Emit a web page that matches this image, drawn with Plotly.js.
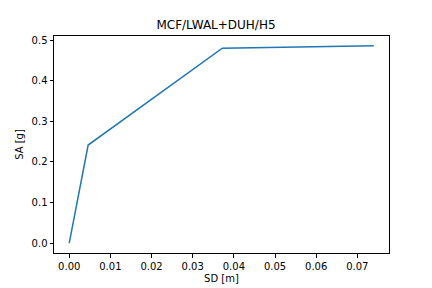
<!DOCTYPE html>
<html><head><meta charset="utf-8">
<script src="https://cdn.plot.ly/plotly-3.0.1.min.js"></script>
<style>html,body{margin:0;padding:0;background:#fff}#plot{width:432px;height:288px}</style>
</head><body><div id="plot"></div>
<script>
const sd = [0.0, 0.0046, 0.0372, 0.0740];
const sa = [0.0, 0.2417, 0.4804, 0.4860];
const xTicks = [0, 0.01, 0.02, 0.03, 0.04, 0.05, 0.06, 0.07];
const xTickText = ["0.00","0.01","0.02","0.03","0.04","0.05","0.06","0.07"];
const yTicks = [0, 0.1, 0.2, 0.3, 0.4, 0.5];
const yTickText = ["0.0","0.1","0.2","0.3","0.4","0.5"];

const xmax = Math.max(...sd), ymax = Math.max(...sa);
const font = {family: "DejaVu Sans, sans-serif", size: 10, color: "#000"};
const axisCommon = {
  showgrid: false, zeroline: false, showline: true, mirror: true,
  linecolor: "#000", linewidth: 1, ticks: "outside", ticklen: 3.5,
  tickcolor: "#000", tickwidth: 1, tickfont: font
};
Plotly.newPlot("plot", [{
  x: sd, y: sa, type: "scatter", mode: "lines",
  line: {color: "#1f77b4", width: 1.5}, hoverinfo: "skip"
}], {
  width: 432, height: 288,
  margin: {l: 54, r: 43, t: 36, b: 35},
  paper_bgcolor: "#fff", plot_bgcolor: "#fff",
  showlegend: false,
  title: {text: "MCF/LWAL+DUH/H5", font: {family: "DejaVu Sans, sans-serif", size: 12, color: "#000"},
          x: 0.5, xanchor: "center", y: 1 - 25/288, yanchor: "middle"},
  xaxis: Object.assign({}, axisCommon, {
    range: [-0.05 * xmax, 1.05 * xmax], tickvals: xTicks, ticktext: xTickText,
    title: {text: "SD [m]", font: font, standoff: 4}
  }),
  yaxis: Object.assign({}, axisCommon, {
    range: [-0.05 * ymax, 1.05 * ymax], tickvals: yTicks, ticktext: yTickText,
    title: {text: "SA [g]", font: font, standoff: 6}
  })
}, {staticPlot: true, displayModeBar: false});
</script></body></html>
